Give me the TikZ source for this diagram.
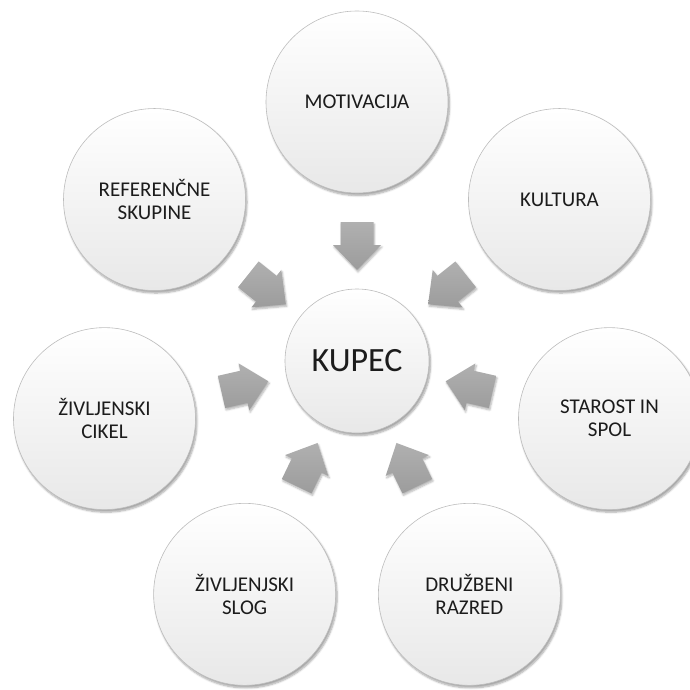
\documentclass[tikz,border=0pt]{standalone}
\usepackage{fontspec}
\setmainfont{Carlito}
\usetikzlibrary{shadows.blur}
\definecolor{txt}{HTML}{1C1C1C}
\definecolor{rim}{HTML}{BDBDBD}
\definecolor{arrtop}{HTML}{B0B0B0}
\definecolor{arrbot}{HTML}{9C9C9C}
\begin{document}
\begin{tikzpicture}[x=1pt,y=1pt,
  bubble/.style={circle, minimum size=182pt, inner sep=0pt, draw=rim, line width=0.6pt,
    top color=white, bottom color=black!9,
    blur shadow={shadow xshift=1.5pt, shadow yshift=-2.5pt, shadow opacity=35, shadow blur steps=6, shadow blur extra rounding=1pt},
    align=center, text=txt, font=\fontsize{21}{23}\selectfont},
  hub/.style={bubble, minimum size=144pt, font=\fontsize{34}{40}\selectfont},
  blockarrow/.style={top color=arrtop, bottom color=arrbot, draw=none,
    blur shadow={shadow xshift=1pt, shadow yshift=-2pt, shadow opacity=30, shadow blur steps=5}}]
\useasboundingbox (-357,-328) rectangle (333,361);
\node[hub] (kupec) at (0,0) {KUPEC};
\node[bubble] (mot) at (90:259) {MOTIVACIJA};
\node[bubble] (kul) at (38.571:259) {KULTURA};
\node[bubble] (sta) at (-12.857:259) {STAROST IN\\SPOL};
\node[bubble] (dru) at (-64.286:259) {DRUŽBENI\\RAZRED};
\node[bubble] (slo) at (-115.714:259) {ŽIVLJENJSKI\\SLOG};
\node[bubble] (cik) at (192.857:259) {ŽIVLJENSKI\\CIKEL};
\node[bubble] (ref) at (141.429:259) {REFERENČNE\\SKUPINE};
\foreach \a in {90,38.571,-12.857,-64.286,-115.714,192.857,141.429}{
  \begin{scope}[shift={(kupec.center)}, rotate=\a]
    \path[blockarrow] (91,0) -- (116,24) -- (116,16.5) -- (139,16.5) -- (139,-16.5) -- (116,-16.5) -- (116,-24) -- cycle;
  \end{scope}
}
\end{tikzpicture}
\end{document}
